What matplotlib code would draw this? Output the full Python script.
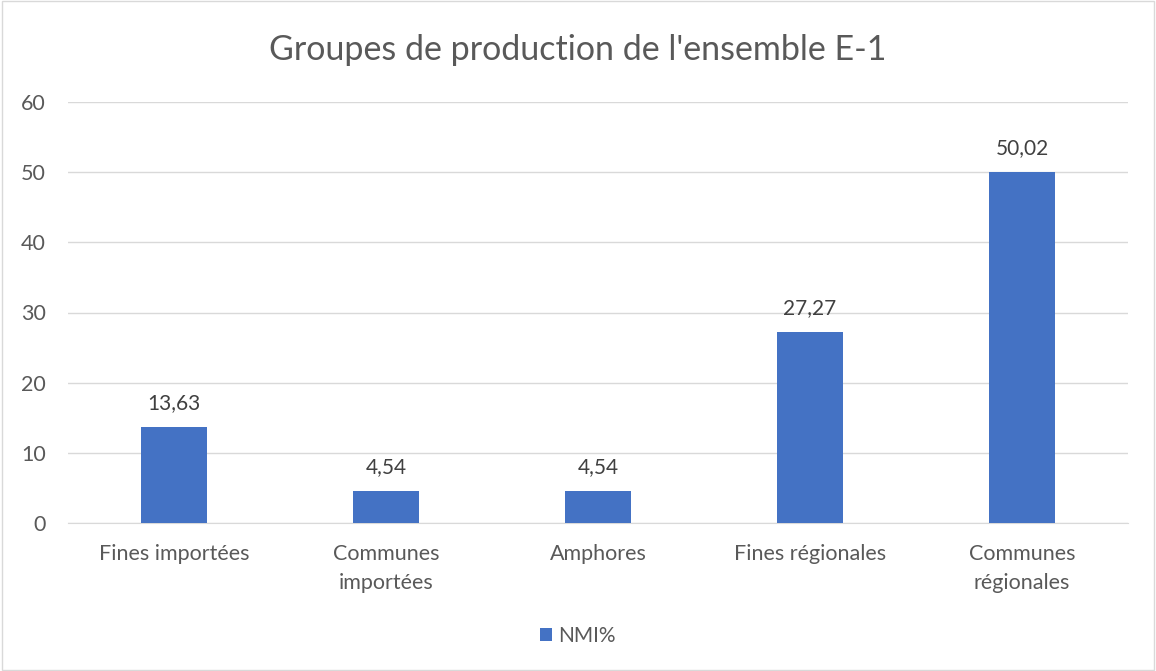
import matplotlib.pyplot as plt
from matplotlib.patches import Rectangle

categories = ["Fines importées", "Communes\nimportées", "Amphores",
              "Fines régionales", "Communes\nrégionales"]
values = [13.63, 4.54, 4.54, 27.27, 50.02]
series_name = "NMI%"
title = "Groupes de production de l'ensemble E-1"

plt.rcParams['font.family'] = ['Lato', 'DejaVu Sans']
text_col = "#595959"
bar_col = "#4472C4"

fig = plt.figure(figsize=(11.56, 6.71), dpi=100)
ax = fig.add_axes([68 / 1156, 148 / 671, 1060 / 1156, 421 / 671])

x = list(range(len(categories)))
bars = ax.bar(x, values, width=0.316, color=bar_col, zorder=3, label=series_name)
for xi, v in zip(x, values):
    ax.text(xi, v + 2.0, f"{v:.2f}".replace(".", ","), ha="center", va="bottom",
            fontsize=15, color="#404040")

ax.set_xlim(-0.5, len(categories) - 0.5)
ax.set_ylim(0, 60)
ax.set_yticks(range(0, 61, 10))
ax.set_xticks(x)
ax.set_xticklabels(categories, linespacing=1.55)
ax.tick_params(axis="both", length=0, labelsize=15.5, labelcolor=text_col)
ax.tick_params(axis="x", pad=15)
ax.tick_params(axis="y", pad=16)
ax.grid(axis="y", color="#D9D9D9", linewidth=1, zorder=0)
for s in ["top", "right", "left"]:
    ax.spines[s].set_visible(False)
ax.spines["bottom"].set_color("#D9D9D9")

fig.text(0.5, 1 - 50 / 671, title, ha="center", va="center", fontsize=24.5, color=text_col)

fig.legend(handles=[bars], labels=[series_name], loc="center",
           bbox_to_anchor=(0.5, 1 - 636 / 671), frameon=False, fontsize=15,
           handlelength=0.6, handleheight=0.6, handletextpad=0.3, labelcolor=text_col)

fig.patches.append(Rectangle((0.002, 0.002), 0.996, 0.996, transform=fig.transFigure,
                             fill=False, edgecolor="#D9D9D9", linewidth=1))

fig.savefig("out.png", dpi=100)
